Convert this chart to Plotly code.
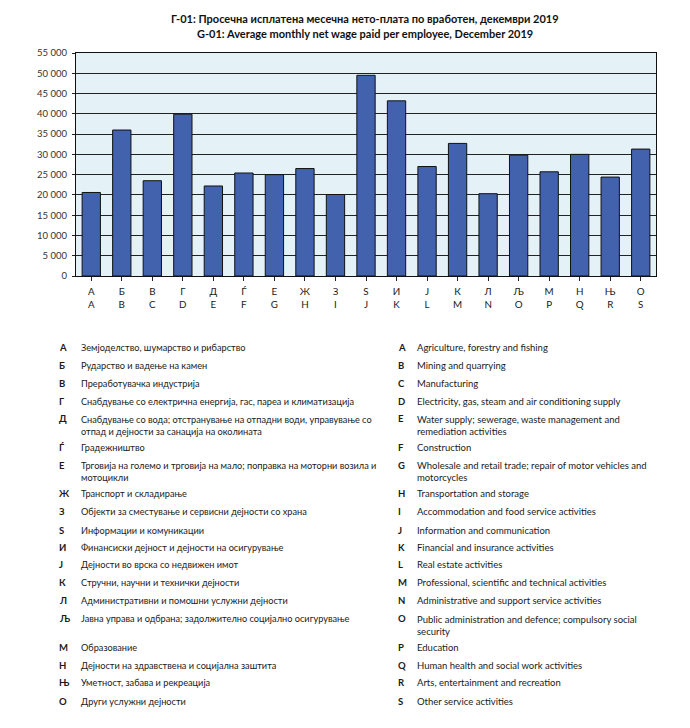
import plotly.graph_objects as go

# ---- data ----
codes_mk = ["А", "Б", "В", "Г", "Д", "Ѓ", "Е", "Ж", "З", "Ѕ", "И", "Ј", "К", "Л", "Љ", "М", "Н", "Њ", "О"]
codes_en = ["A", "B", "C", "D", "E", "F", "G", "H", "I", "J", "K", "L", "M", "N", "O", "P", "Q", "R", "S"]
wages = [20600, 36000, 23500, 39900, 22200, 25400, 25000, 26500, 20100,
         49500, 43200, 27000, 32700, 20300, 29800, 25700, 30000, 24400, 31300]

desc_mk = [
    "Земјоделство, шумарство и рибарство",
    "Рударство и вадење на камен",
    "Преработувачка индустрија",
    "Снабдување со електрична енергија, гас, пареа и климатизација",
    "Снабдување со вода; отстранување на отпадни води, управување со<br>отпад и дејности за санација на околината",
    "Градежништво",
    "Трговија на големо и трговија на мало; поправка на моторни возила и<br>мотоцикли",
    "Транспорт и складирање",
    "Објекти за сместување и сервисни дејности со храна",
    "Информации и комуникации",
    "Финансиски дејност и дејности на осигурување",
    "Дејности во врска со недвижен имот",
    "Стручни, научни и технички дејности",
    "Административни и помошни услужни дејности",
    "Јавна управа и одбрана; задолжително социјално осигурување",
    "Образование",
    "Дејности на здравствена и социјална заштита",
    "Уметност, забава и рекреација",
    "Други услужни дејности",
]
desc_en = [
    "Agriculture, forestry and fishing",
    "Mining and quarrying",
    "Manufacturing",
    "Electricity, gas, steam and air conditioning supply",
    "Water supply; sewerage, waste management and<br>remediation activities",
    "Construction",
    "Wholesale and retail trade; repair of motor vehicles and<br>motorcycles",
    "Transportation and storage",
    "Accommodation and food service activities",
    "Information and communication",
    "Financial and insurance activities",
    "Real estate activities",
    "Professional, scientific and technical activities",
    "Administrative and support service activities",
    "Public administration and defence; compulsory social<br>security",
    "Education",
    "Human health and social work activities",
    "Arts, entertainment and recreation",
    "Other service activities",
]

# ---- layout geometry (page pixels; page body has an 8px margin) ----
OFF = 8
W, H = 690 - OFF, 728 - OFF
PL, PR, PT, PB = 76 - OFF, 656 - OFF, 53 - OFF, 276 - OFF
row_y = [347, 365, 383, 401, 419, 447, 465, 493, 511, 530, 547, 564.5, 582.5,
         600.5, 618.5, 647, 665, 683, 701.5]
LINE_H = 13.2

def px_x(px):
    return (px - OFF - PL) / (PR - PL)

def px_y(py):
    return (PB - (py - OFF)) / (PB - PT)

FONT = "Lato, 'Open Sans', sans-serif"
TXT = "#1a1a1a"

ticktext = [f"{m}<br>{e}" for m, e in zip(codes_mk, codes_en)]

fig = go.Figure()
fig.add_trace(go.Bar(
    x=list(range(len(wages))), y=wages,
    marker=dict(color="#4262AE", line=dict(color="#111111", width=1)),
    hoverinfo="y",
))

annotations = []
cols = [(desc_mk, codes_mk, 58, 79.5, 9.2), (desc_en, codes_en, 396.5, 415.5, 9.5)]
for descs, codes, lx, tx, fs in cols:
    for i, (c, d) in enumerate(zip(codes, descs)):
        y0 = row_y[i]
        annotations.append(dict(
            x=px_x(lx), y=px_y(y0), xref="paper", yref="paper",
            text=f"<b>{c}</b>", showarrow=False, xanchor="left", yanchor="middle",
            font=dict(family=FONT, size=9.5, color=TXT), borderpad=0,
        ))
        nlines = d.count("<br>") + 1
        yc = y0 + (nlines - 1) * LINE_H / 2
        annotations.append(dict(
            x=px_x(tx), y=px_y(yc), xref="paper", yref="paper",
            text=d, showarrow=False, xanchor="left", yanchor="middle", align="left",
            font=dict(family=FONT, size=fs, color=TXT), borderpad=0,
        ))

# title lines as annotations for exact placement
title_lines = [
    ("Г-01: Просечна исплатена месечна нето-плата по вработен, декември 2019", 18.5),
    ("G-01: Average monthly net wage paid per employee, December 2019", 33.5),
]
for t, ty in title_lines:
    annotations.append(dict(
        x=px_x(365), y=px_y(ty), xref="paper", yref="paper",
        text=f"<b>{t}</b>", showarrow=False, xanchor="center", yanchor="middle",
        font=dict(family=FONT, size=11, color="#111111"), borderpad=0,
    ))

fig.update_layout(
    width=W, height=H,
    margin=dict(l=PL, r=W - PR, t=PT, b=H - PB, pad=0),
    paper_bgcolor="white",
    plot_bgcolor="#E4F2F7",
    bargap=0.4,
    showlegend=False,
    separators=". ",
    font=dict(family=FONT, size=9.5, color=TXT),
    xaxis=dict(
        tickmode="array", tickvals=list(range(len(wages))), ticktext=ticktext,
        tickson="boundaries", ticks="outside", ticklen=4, tickcolor="#222",
        showline=True, linecolor="#111111", linewidth=1, mirror=True,
        showgrid=False, range=[-0.5, len(wages) - 0.5],
        ticklabelstandoff=2,
        tickfont=dict(family=FONT, size=9.8, color=TXT),
    ),
    yaxis=dict(
        range=[0, 55000], dtick=5000, tickformat=",d",
        ticks="outside", ticklen=3, tickcolor="#222",
        showline=True, linecolor="#111111", linewidth=1, mirror=True,
        showgrid=True, gridcolor="#222222", gridwidth=1,
        zeroline=False, ticklabelstandoff=3,
        tickfont=dict(family=FONT, size=9.5, color="#333333"),
    ),
    annotations=annotations,
)

fig.write_html("out.html")
